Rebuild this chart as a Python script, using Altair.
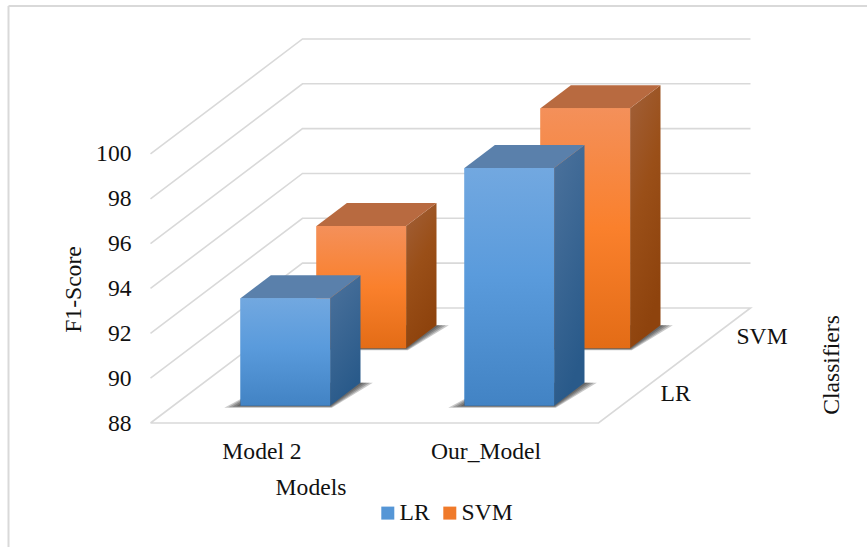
import altair as alt
import pandas as pd

# Chart values
models = ["Model 2", "Our_Model"]
classifiers = ["LR", "SVM"]
lr_scores = [92.8, 98.6]
svm_scores = [93.45, 98.7]
score_ticks = [88, 90, 92, 94, 96, 98, 100]
BASE = 88

SERIF = "Liberation Serif"
TEXT_SIZE = 23.6
TEXT_COLOR = "#111111"
GRID_COLOR = "#d9d9d9"

# Oblique projection: depth 0..1 shifts a point right and up on the two scales
DEPTH_X = 152 / 224
DEPTH_Y = 115 / 22.42

# Share of a category / depth slot taken by a bar
BAR_U = (0.3, 0.7)
BAR_D = (0.3, 0.7)

x_scale = alt.Scale(domain=[-150.5 / 224, 716.5 / 224], nice=False, zero=False)
y_scale = alt.Scale(domain=[BASE - 124 / 22.42, BASE + 423 / 22.42], nice=False, zero=False)

# Score axis sits just left of the box; every layer shares this definition
score_axis = alt.Axis(
    values=score_ticks, format="d", offset=-131, domain=False, ticks=False,
    grid=False, tickSize=0, labelPadding=0, labelFont=SERIF,
    labelFontSize=TEXT_SIZE, labelColor=TEXT_COLOR, title=None,
)


def px(u, d):
    return u + DEPTH_X * d


def py(score, d):
    return score + DEPTH_Y * d


def gradient(stops, x2=0, y2=1):
    return alt.LinearGradient(
        gradient="linear", x1=0, y1=0, x2=x2, y2=y2,
        stops=[alt.GradientStop(color=c, offset=o) for o, c in stops],
    )


X = lambda f="x": alt.X(f"{f}:Q", scale=x_scale, axis=None)
Y = lambda f="y": alt.Y(f"{f}:Q", scale=y_scale, axis=score_axis)

# Walls and floor of the box
grid_rows = []
for s in score_ticks[1:]:
    for i, (u, d) in enumerate([(0, 0), (0, 1), (2, 1)]):
        grid_rows.append({"g": s, "i": i, "x": px(u, d), "y": py(s, d)})
for i, (u, d) in enumerate([(0, 0), (0, 1), (2, 1), (2, 0), (0, 0)]):
    grid_rows.append({"g": BASE, "i": i, "x": px(u, d), "y": py(BASE, d)})
grid = alt.Chart(pd.DataFrame(grid_rows)).mark_line(
    color=GRID_COLOR, strokeWidth=1.6
).encode(x=X(), y=Y(), detail="g:N", order="i:Q")

STYLE = {
    "LR": {
        "front": [(0, "#72a8e0"), (0.45, "#5a9bdc"), (1, "#4283c4")],
        "side": [(0, "#4c729c"), (1, "#295a8a")],
        "top": "#5a80ab",
    },
    "SVM": {
        "front": [(0, "#f4905a"), (0.5, "#fa802c"), (1, "#e36c16")],
        "side": [(0, "#a1603a"), (0.5, "#9a4f18"), (1, "#8e430d")],
        "top": "#b86a40",
    },
}

bars = []
for si, (name, scores) in enumerate(zip(classifiers, [lr_scores, svm_scores])):
    for mi, (model, score) in enumerate(zip(models, scores)):
        bars.append({
            "series": name, "model": model, "score": score,
            "u0": mi + BAR_U[0], "u1": mi + BAR_U[1],
            "d0": (si + BAR_D[0]) / 2, "d1": (si + BAR_D[1]) / 2,
        })


def shadow_layers(b):
    # Nested translucent footprints give the soft drop shadow on the floor
    out = []
    for k in (1.0, 0.75, 0.5, 0.25):
        d_front = b["d0"] - 0.018 * k
        d_back = b["d1"]
        rows = [
            {"y": py(BASE, d_front), "x": px(b["u0"] - 0.06 * k, d_front),
             "x2": px(b["u1"] + 0.02 * k, d_front)},
            {"y": py(BASE, d_back), "x": px(b["u0"], d_back),
             "x2": px(b["u1"] + 0.055 * k, d_back)},
        ]
        out.append(
            alt.Chart(pd.DataFrame(rows))
            .mark_area(orient="horizontal", color="#1c1c1c", opacity=0.24)
            .encode(x=X(), x2="x2:Q", y=Y())
        )
    return out


def bar_layers(b):
    st = STYLE[b["series"]]
    u0, u1, d0, d1, s = b["u0"], b["u1"], b["d0"], b["d1"], b["score"]
    side_rows = [
        {"x": px(u1, d), "y": py(BASE, d), "y2": py(s, d)} for d in (d0, d1)
    ]
    side = alt.Chart(pd.DataFrame(side_rows)).mark_area(
        orient="vertical", fill=gradient(st["side"], x2=0.35)
    ).encode(x=X(), y=Y(), y2="y2:Q")
    top_rows = [
        {"y": py(s, d), "x": px(u0, d), "x2": px(u1, d)} for d in (d0, d1)
    ]
    top = alt.Chart(pd.DataFrame(top_rows)).mark_area(
        orient="horizontal", color=st["top"]
    ).encode(x=X(), x2="x2:Q", y=Y())
    front_rows = [{"x": px(u0, d0), "x2": px(u1, d0), "y": py(BASE, d0), "y2": py(s, d0)}]
    front = alt.Chart(pd.DataFrame(front_rows)).mark_rect(
        fill=gradient(st["front"])
    ).encode(x=X(), x2="x2:Q", y=Y(), y2="y2:Q")
    return [side, top, front]


# Flat front faces carry the colour encoding, and with it the legend
base_rows = [
    {"series": b["series"], "x": px(b["u0"], b["d0"]), "x2": px(b["u1"], b["d0"]),
     "y": py(BASE, b["d0"]), "y2": py(b["score"], b["d0"])}
    for b in bars
]
base_faces = alt.Chart(pd.DataFrame(base_rows)).mark_rect().encode(
    x=X(), x2="x2:Q", y=Y(), y2="y2:Q",
    color=alt.Color(
        "series:N",
        scale=alt.Scale(domain=classifiers, range=["#5596d6", "#f07a2a"]),
        legend=alt.Legend(
            orient="none", legendX=376, legendY=501, direction="horizontal",
            title=None, symbolType="square", symbolSize=169, symbolStrokeWidth=0,
            labelFont=SERIF, labelFontSize=TEXT_SIZE, labelColor=TEXT_COLOR,
            labelOffset=0, columnPadding=8,
        ),
    ),
)

# Back row first so the front row overlaps it
draw_order = [b for b in bars if b["series"] == "SVM"] + [b for b in bars if b["series"] == "LR"]
bar_marks = []
for b in draw_order:
    bar_marks += shadow_layers(b) + bar_layers(b)


def text_mark(**kw):
    return alt.Chart(pd.DataFrame({"t": [0]})).mark_text(
        font=SERIF, fontSize=TEXT_SIZE, color=TEXT_COLOR, **kw
    )


model_labels = alt.Chart(pd.DataFrame({
    "label": models,
    "x": [px(i + 0.5, 0) for i in range(len(models))],
    "y": [py(BASE, 0)] * len(models),
})).mark_text(font=SERIF, fontSize=TEXT_SIZE, color=TEXT_COLOR, dy=29, dx=-0.5).encode(
    x=X(), y=Y(), text="label:N"
)

classifier_labels = alt.Chart(pd.DataFrame({
    "label": classifiers,
    "x": [px(2, (i + 0.5) / 2) for i in range(len(classifiers))],
    "y": [py(BASE, (i + 0.5) / 2) for i in range(len(classifiers))],
})).mark_text(font=SERIF, fontSize=TEXT_SIZE, color=TEXT_COLOR, align="left", dx=24).encode(
    x=X(), y=Y(), text="label:N"
)

models_title = text_mark().encode(x=alt.value(311), y=alt.value(488), text=alt.value("Models"))
score_title = text_mark(angle=270).encode(x=alt.value(74), y=alt.value(289.5), text=alt.value("F1-Score"))
classifier_title = text_mark(angle=270).encode(x=alt.value(832), y=alt.value(365), text=alt.value("Classifiers"))

# Outer frame: left and top edges only
frame_left = alt.Chart(pd.DataFrame({"t": [0]})).mark_rule(color=GRID_COLOR, strokeWidth=2).encode(
    x=alt.value(8.5), y=alt.value(6), y2=alt.value(547)
)
frame_top = alt.Chart(pd.DataFrame({"t": [0]})).mark_rule(color=GRID_COLOR, strokeWidth=2).encode(
    x=alt.value(8.5), x2=alt.value(867), y=alt.value(6)
)

chart = alt.layer(
    frame_left, frame_top, grid, base_faces, *bar_marks,
    model_labels, classifier_labels, models_title, score_title, classifier_title,
).properties(
    width=867, height=547, padding=0, background="white",
    autosize=alt.AutoSizeParams(type="none"),
).configure_view(stroke=None)

chart.save("out.html", embed_options={"renderer": "svg", "actions": False})
